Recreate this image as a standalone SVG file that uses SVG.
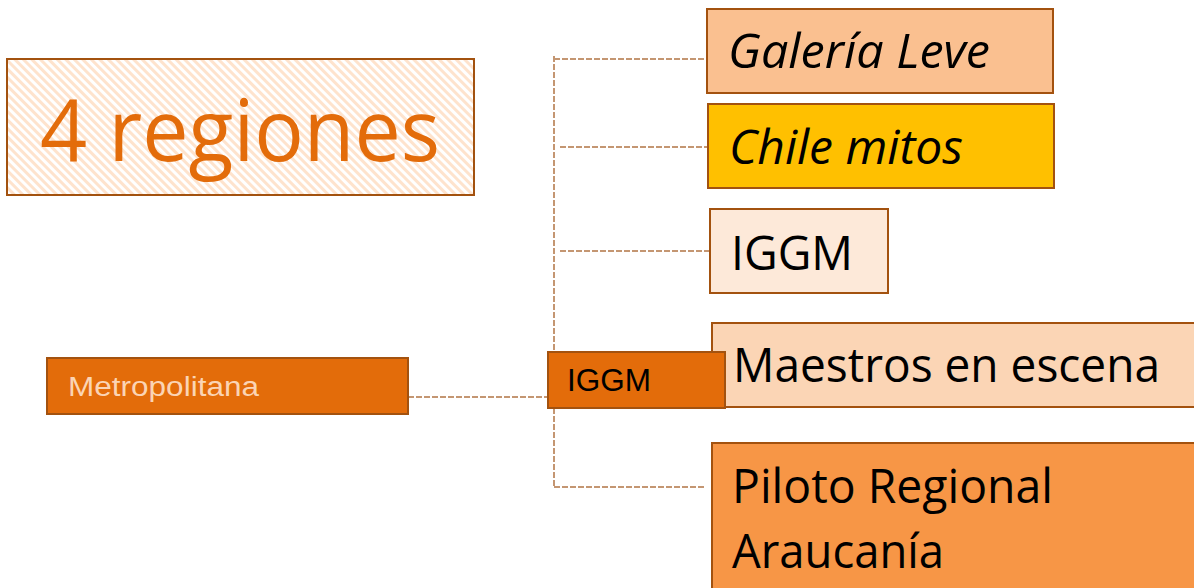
<svg xmlns="http://www.w3.org/2000/svg" width="1194" height="588" viewBox="0 0 1194 588">
<style>
.box{stroke:#A3520F;stroke-width:2}
.conn{fill:none;stroke:#C49672;stroke-width:2;stroke-dasharray:6 2}
.cal{font-family:"Open Sans","Noto Sans",sans-serif;fill:#000}
.ar{font-family:"Liberation Sans",Arial,sans-serif}
</style>
<defs>
<pattern id="hatch" width="6" height="6" patternUnits="userSpaceOnUse" patternTransform="rotate(45)">
<rect width="6" height="6" fill="#FFFFFF"/>
<rect width="6" height="3" fill="#FEE3CD"/>
</pattern>
</defs>
<rect width="1194" height="588" fill="#FFFFFF"/>
<g id="connectors">
<path class="conn" d="M554 56 V487"/>
<path class="conn" d="M554 59 H705"/>
<path class="conn" d="M560 147 H708"/>
<path class="conn" d="M560 251 H710"/>
<path class="conn" d="M554 487 H705"/>
<path class="conn" d="M408 397 H548"/>
</g>
<g id="title">
<rect class="box" x="7" y="59" width="467" height="136" fill="url(#hatch)"/>
<text x="40" y="161" class="cal" style="fill:#E36C0A" font-size="86" textLength="400" lengthAdjust="spacingAndGlyphs">4 regiones</text>
</g>
<g id="metropolitana">
<rect class="box" x="47" y="358" width="361" height="56" fill="#E36C0A"/>
<text x="68" y="396" class="ar" fill="#FBD4B4" font-size="27" textLength="191" lengthAdjust="spacingAndGlyphs">Metropolitana</text>
</g>
<g id="galeria">
<rect class="box" x="707" y="9" width="346" height="84" fill="#FAC090"/>
<text x="728" y="68" class="cal" font-style="italic" font-size="48" textLength="262" lengthAdjust="spacingAndGlyphs">Galería Leve</text>
</g>
<g id="chile">
<rect class="box" x="708" y="104" width="346" height="84" fill="#FFC000"/>
<text x="729" y="164" class="cal" font-style="italic" font-size="48" textLength="234" lengthAdjust="spacingAndGlyphs">Chile mitos</text>
</g>
<g id="iggm-right">
<rect class="box" x="710" y="209" width="178" height="84" fill="#FDE9D9"/>
<text x="731" y="270" class="cal" font-size="48" textLength="122" lengthAdjust="spacingAndGlyphs">IGGM</text>
</g>
<g id="maestros">
<rect class="box" x="712" y="323" width="500" height="84" fill="#FBD5B5"/>
<text x="733" y="382" class="cal" font-size="48" textLength="427" lengthAdjust="spacingAndGlyphs">Maestros en escena</text>
</g>
<g id="iggm-small">
<rect class="box" x="548" y="352" width="177" height="56" fill="#E36C0A"/>
<text x="567" y="391" class="ar" fill="#000" font-size="31" textLength="84" lengthAdjust="spacingAndGlyphs">IGGM</text>
</g>
<g id="piloto">
<rect class="box" x="712" y="443" width="500" height="160" fill="#F79646"/>
<text x="732" y="503" class="cal" font-size="48" textLength="321" lengthAdjust="spacingAndGlyphs">Piloto Regional</text>
<text x="732" y="568" class="cal" font-size="48" textLength="212" lengthAdjust="spacingAndGlyphs">Araucanía</text>
</g>
</svg>
